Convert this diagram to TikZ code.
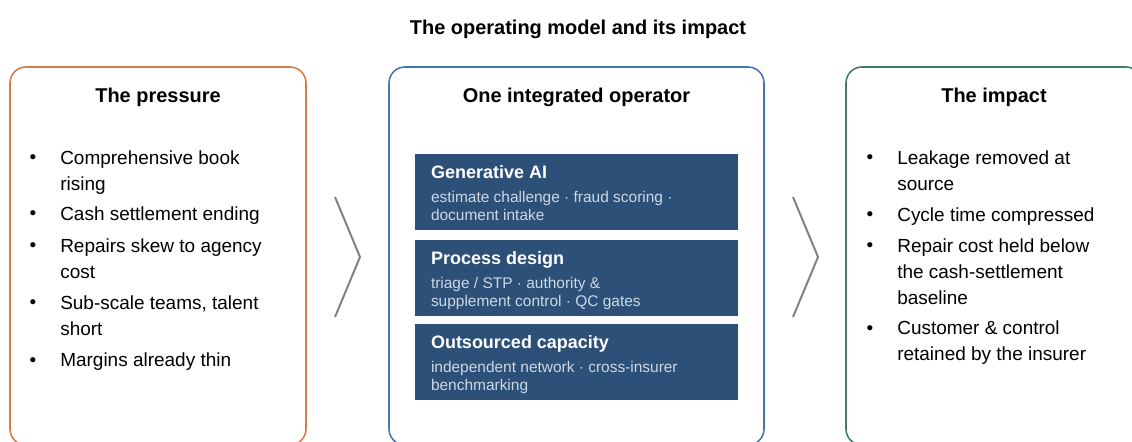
\documentclass[tikz,border=0pt]{standalone}
\usepackage{fontspec}
\setmainfont{Liberation Sans}
\usepackage{xcolor}
\usepackage{tikz}
\usetikzlibrary{positioning, calc}
\definecolor{pressureorange}{RGB}{214,123,74}
\definecolor{operatorblue}{RGB}{70,116,178}
\definecolor{impactgreen}{RGB}{64,125,100}
\definecolor{cardnavy}{RGB}{44,80,120}
\definecolor{cardgrey}{RGB}{205,215,228}

\begin{document}
\begin{tikzpicture}[
          panel/.style={rectangle, rounded corners=0.4cm, line width=1.1pt, minimum width=7.4cm, minimum height=9.45cm},
          heading/.style={anchor=base, inner sep=0pt, font=\bfseries\fontsize{14.2}{17}\selectfont},
          bullet/.style={anchor=base, inner sep=0pt, font=\fontsize{13.5}{18.5}\selectfont},
          item/.style={anchor=north west, inner sep=0pt, align=left, font=\fontsize{13.5}{18.5}\selectfont},
          card/.style={rectangle, fill=cardnavy, minimum width=8.075cm, minimum height=1.9cm, draw=none},
          cardtitle/.style={anchor=base west, inner sep=0pt, text=white, font=\bfseries\fontsize{12.8}{15}\selectfont},
          cardtext/.style={anchor=north west, inner sep=0pt, align=left, text=cardgrey, font=\fontsize{11}{13.5}\selectfont},
          chevron/.style={gray, line width=1.4pt}
        ]
          \useasboundingbox (0,0) rectangle (28.3,11.025);
          \clip (0,0) rectangle (28.3,11.025);

          % Title
          \node[heading] (title) at (14.45,10.15) {The operating model and its impact};

          % Three panels
          \node[panel, draw=pressureorange] (pressure) at (3.95,4.625) {};
          \node[panel, draw=operatorblue, minimum width=9.375cm] (operator) at (14.4125,4.625) {};
          \node[panel, draw=impactgreen] (impact) at (24.85,4.625) {};

          \node[heading] (pressurehead) at (3.95,8.45) {The pressure};
          \node[heading] (operatorhead) at (14.4125,8.45) {One integrated operator};
          \node[heading] (impacthead) at (24.85,8.45) {The impact};

          % Left bullets (y = first baseline)
          \foreach \y/\txt [count=\i] in {6.925/{Comprehensive book\\rising},
                                          5.525/{Cash settlement ending},
                                          4.725/{Repairs skew to agency\\cost},
                                          3.3/{Sub-scale teams, talent\\short},
                                          1.875/{Margins already thin}} {
            \node[bullet] (pb-\i) at (0.825,\y) {•};
            \node[item] (pi-\i) at (1.5,\y+0.345) {\txt};
          }

          % Right bullets
          \foreach \y/\txt [count=\i] in {6.925/{Leakage removed at\\source},
                                          5.5/{Cycle time compressed},
                                          4.725/{Repair cost held below\\the cash-settlement\\baseline},
                                          2.675/{Customer \& control\\retained by the insurer}} {
            \node[bullet] (ib-\i) at (21.75,\y) {•};
            \node[item] (ii-\i) at (22.425,\y+0.345) {\txt};
          }

          % Operator cards
          \node[card] (genai) at (14.4125,6.225) {};
          \node[card] (process) at (14.4125,4.075) {};
          \node[card] (outsource) at (14.4125,1.975) {};

          \node[cardtitle] (genai-t) at ($(genai.north west)+(0.4,-0.625)$) {Generative AI};
          \node[cardtext] (genai-s) at ($(genai.north west)+(0.4,-0.92)$) {estimate challenge · fraud scoring ·\\document intake};

          \node[cardtitle] (process-t) at ($(process.north west)+(0.4,-0.625)$) {Process design};
          \node[cardtext] (process-s) at ($(process.north west)+(0.4,-0.92)$) {triage / STP · authority \&\\supplement control · QC gates};

          \node[cardtitle] (outsource-t) at ($(outsource.north west)+(0.4,-0.625)$) {Outsourced capacity};
          \node[cardtext] (outsource-s) at ($(outsource.north west)+(0.4,-0.92)$) {independent network · cross-insurer\\benchmarking};

          % Chevrons between panels
          \draw[chevron] (8.375,6.1) -- (9.0,4.6) -- (8.375,3.1);
          \draw[chevron] (19.825,6.1) -- (20.45,4.6) -- (19.825,3.1);
        \end{tikzpicture}
\end{document}
